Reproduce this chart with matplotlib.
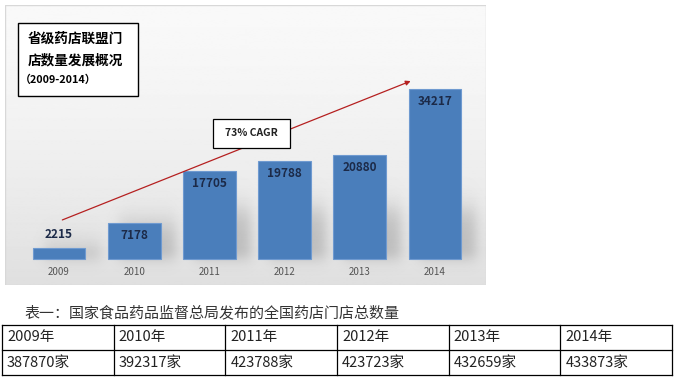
import matplotlib.pyplot as plt
import numpy as np
from matplotlib.patches import Rectangle

plt.rcParams['font.family'] = ['Noto Sans CJK SC', 'DejaVu Sans']

### DATA ###

years = ["2009", "2010", "2011", "2012", "2013", "2014"]
stores = [2215, 7178, 17705, 19788, 20880, 34217]
title_lines = ["省级药店联盟门", "店数量发展概况", "（2009-2014）"]
cagr_text = "73% CAGR"
caption = "表一：国家食品药品监督总局发布的全国药店门店总数量"
table_years = ["2009年", "2010年", "2011年", "2012年", "2013年", "2014年"]
table_counts = ["387870家", "392317家", "423788家", "423723家", "432659家", "433873家"]

W, H = 674, 379

def fx(px): # pixel x -> figure fraction
    return px / W

def fy(py): # pixel y (from top) -> figure fraction
    return 1 - py / H

fig = plt.figure(figsize=(W / 100, H / 100), dpi=100)
fig.patch.set_facecolor("white")

### CHART PANEL ###

x0, x1, y0, y1 = -0.718, 5.678, -5230, 51100
ax = fig.add_axes([fx(5), fy(285), fx(486) - fx(5), fy(5) - fy(285)])
ax.set_xlim(x0, x1)
ax.set_ylim(y0, y1)
ax.axis("off")

grad = np.linspace(0, 1, 256).reshape(-1, 1)
grad = 0.975 - 0.10 * grad ** 1.5
ax.imshow(grad, extent=[x0, x1, y0, y1], aspect="auto", cmap="gray",
          vmin=0, vmax=1, zorder=0, origin="upper")
ax.add_patch(Rectangle((x0, y0), x1 - x0, y1 - y0, fill=False, ec="#d8d8d8", lw=1, zorder=1))

x = np.arange(len(years))

# soft shadow behind the bars (smooth image, not marks)
gx = np.linspace(x0, x1, 500)
gy = np.linspace(y0, y1, 300)
GX, GY = np.meshgrid(gx, gy)
shade = np.zeros_like(GX)
for i, v in enumerate(stores):
    top = min(v, 10000)
    sx = 1 / (1 + np.exp(-(GX - (x[i] - 0.2)) / 0.05)) * 1 / (1 + np.exp((GX - (x[i] + 0.55)) / 0.05))
    sy = 1 / (1 + np.exp(-(GY - 0) / 800)) * 1 / (1 + np.exp((GY - top) / 1500))
    shade = np.maximum(shade, sx * sy)
rgba = np.zeros(GX.shape + (4,))
rgba[..., :3] = 0.45
rgba[..., 3] = shade * 0.35
ax.imshow(rgba, extent=[x0, x1, y0, y1], aspect="auto", origin="lower", zorder=2)

ax.bar(x, stores, width=0.70, color="#4a7ebb", edgecolor="#6f9ad0", lw=0.8, zorder=3)

for i, v in enumerate(stores):
    if v < 5000:
        ax.text(x[i], v + 1400, str(v), ha="center", va="bottom", fontsize=8.5,
                fontweight="bold", color="#1c2a48", zorder=5)
    else:
        ax.text(x[i], v - 1200, str(v), ha="center", va="top", fontsize=8.5,
                fontweight="bold", color="#1c2a48", zorder=5)
    ax.text(x[i], -2600, years[i], ha="center", va="center", fontsize=7, color="#555555", zorder=5)

ax.annotate("", xy=(4.71, 36000), xytext=(0.01, 7650),
            arrowprops=dict(arrowstyle="-|>", color="#b52020", lw=0.9, mutation_scale=7), zorder=4)

# CAGR box
fig.patches.append(Rectangle((fx(213), fy(148)), fx(290) - fx(213), fy(119) - fy(148),
                             transform=fig.transFigure, fc="white", ec="black", lw=0.9, zorder=6))
fig.text(fx(251.5), fy(133.5), cagr_text, ha="center", va="center", fontsize=7.5,
         fontweight="bold", color="#222222", zorder=7)

# title box
fig.patches.append(Rectangle((fx(18), fy(96)), fx(138) - fx(18), fy(23) - fy(96),
                             transform=fig.transFigure, fc="white", ec="black", lw=1, zorder=6))
fig.text(fx(28), fy(39), title_lines[0], ha="left", va="center", fontsize=9.8, fontweight="bold", zorder=7)
fig.text(fx(28), fy(60), title_lines[1], ha="left", va="center", fontsize=9.8, fontweight="bold", zorder=7)
fig.text(fx(20), fy(80), title_lines[2], ha="left", va="center", fontsize=7.8, fontweight="bold", zorder=7)

### CAPTION AND TABLE ###

fig.text(fx(24), fy(313), caption, ha="left", va="center", fontsize=10.8, color="#333333")

tab_left, tab_right = 2, 672
row_y = [325, 350, 375]
col_w = (tab_right - tab_left) / 6
for yy in row_y:
    fig.add_artist(plt.Line2D([fx(tab_left), fx(tab_right)], [fy(yy), fy(yy)], color="black", lw=0.9))
for c in range(7):
    xx = tab_left + c * col_w
    fig.add_artist(plt.Line2D([fx(xx), fx(xx)], [fy(row_y[0]), fy(row_y[-1])], color="black", lw=0.9))
for c in range(6):
    xx = tab_left + c * col_w + 5
    fig.text(fx(xx), fy(337.5), table_years[c], ha="left", va="center", fontsize=10.5, color="#222222")
    fig.text(fx(xx), fy(362.5), table_counts[c], ha="left", va="center", fontsize=10.5, color="#222222")

fig.savefig("out.png", dpi=100)
